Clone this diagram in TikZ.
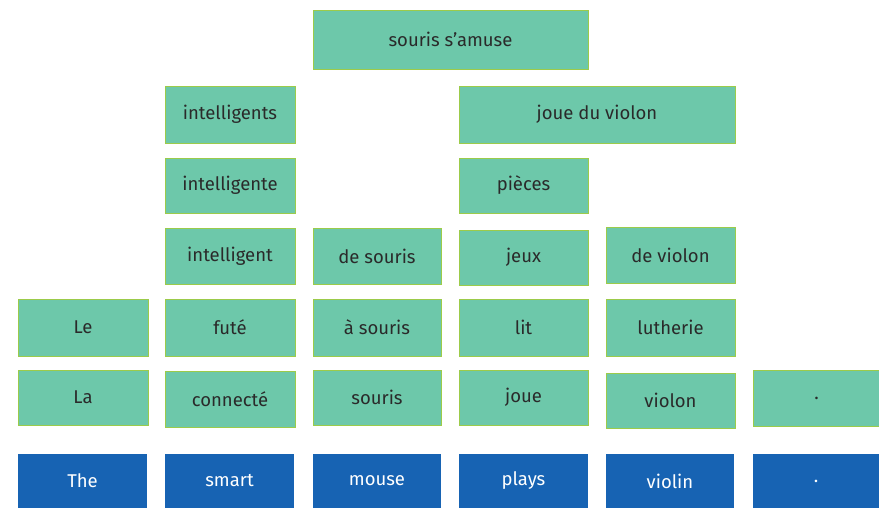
\documentclass[tikz,border=0pt]{standalone}
\usepackage{fontspec}
\setmainfont{Fira Sans}
\definecolor{tile}{HTML}{6DC8AA}
\definecolor{tileedge}{HTML}{9CCB4A}
\definecolor{eng}{HTML}{1763B3}
\definecolor{ink}{HTML}{2A2A2A}
\begin{document}
\begin{tikzpicture}[x=1pt,y=-1pt,
  fr/.style={draw=tileedge, line width=0.6pt, fill=tile, text=ink,
    inner sep=0pt, font=\fontsize{18.5}{21}\selectfont},
  en/.style={fill=eng, text=white, inner sep=0pt,
    font=\fontsize{18.5}{21}\selectfont, minimum height=54pt},
  w1/.style={minimum width=130pt},
  h57/.style={minimum height=57pt},
  h55/.style={minimum height=55pt}]
\useasboundingbox (0,0) rectangle (879,508);
% top row
\node[fr, minimum width=275pt, minimum height=59pt] (sa) at (450.5,39.5) {souris s’amuse};
\node[fr, w1, h57] (ints) at (230,114.5) {intelligents};
\node[fr, minimum width=276pt, h57] (jdv) at (597,114.5) {joue du violon};
\node[fr, w1, h55] (inte) at (230,185.5) {intelligente};
\node[fr, minimum width=129pt, h55] (pie) at (523.5,185.5) {pièces};
% row 4
\node[fr, w1, minimum height=56pt] (intl) at (230,256) {intelligent};
\node[fr, minimum width=128pt, minimum height=56pt] (des) at (377,256) {de souris};
\node[fr, minimum width=129pt, h55] (jeux) at (523.5,257.5) {jeux};
\node[fr, minimum width=129pt, minimum height=56pt] (dev) at (670.5,255) {de violon};
% row 5
\node[fr, w1, h57] (le) at (83,327.5) {Le};
\node[fr, w1, h57] (fute) at (230,327.5) {futé};
\node[fr, minimum width=128pt, h57] (asou) at (377,327.5) {à souris};
\node[fr, minimum width=129pt, h57] (lit) at (523.5,327.5) {lit};
\node[fr, minimum width=129pt, h57] (luth) at (670.5,327.5) {lutherie};
% row 6
\node[fr, w1, h55] (la) at (83,397.5) {La};
\node[fr, w1, minimum height=56pt] (conn) at (230,399) {connecté};
\node[fr, minimum width=128pt, h55] (sou) at (377,397.5) {souris};
\node[fr, minimum width=129pt, h55] (joue) at (523.5,397.5) {joue};
\node[fr, minimum width=129pt, h55] (vio) at (670.5,400.5) {violon};
\node[fr, minimum width=127pt, minimum height=56pt] (dotf) at (816.5,398) {.};
% English row
\node[en, minimum width=129pt] (the) at (82.5,481) {The};
\node[en, minimum width=129pt] (smart) at (229.5,481) {smart};
\node[en, minimum width=128pt] (mouse) at (377,481) {mouse};
\node[en, minimum width=129pt] (plays) at (523.5,481) {plays};
\node[en, minimum width=128pt] (violin) at (670,481) {violin};
\node[en, minimum width=126pt] (dote) at (816,481) {.};
\end{tikzpicture}
\end{document}
